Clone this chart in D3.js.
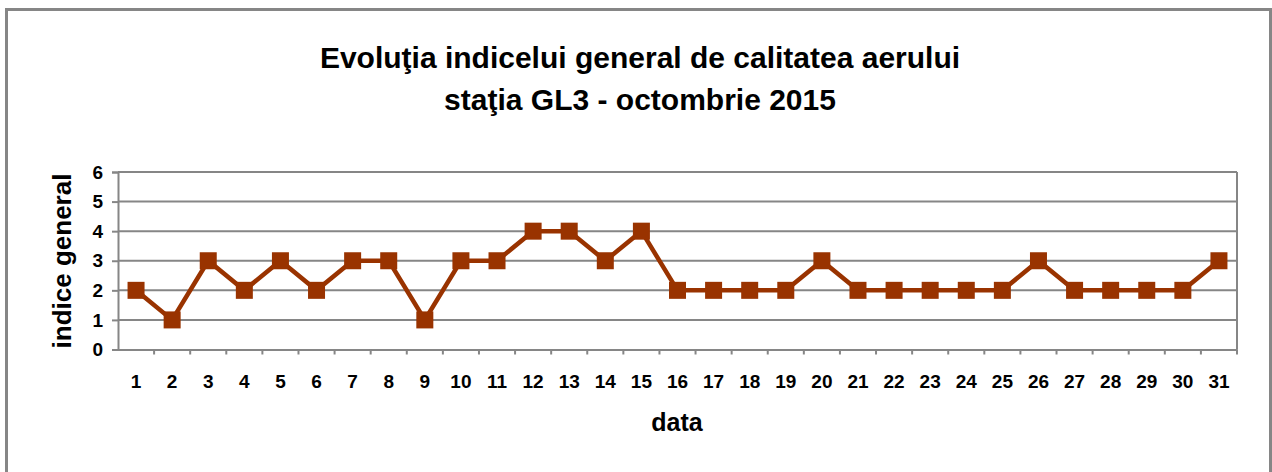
<!DOCTYPE html>
<html>
<head>
<meta charset="utf-8">
<script src="https://cdn.jsdelivr.net/npm/d3@7"></script>
<style>
  body { margin: 0; background: #fff; }
  svg { display: block; font-family: "Liberation Sans", Arial, sans-serif; }
</style>
</head>
<body>
<svg id="chart" width="1272" height="472"></svg>
<script>
// data
const days = d3.range(1, 32).map(String);
const indice = [2, 1, 3, 2, 3, 2, 3, 3, 1, 3, 3, 4, 4, 3, 4, 2, 2, 2, 2, 3, 2, 2, 2, 2, 2, 3, 2, 2, 2, 2, 3];
const yTicks = [0, 1, 2, 3, 4, 5, 6];
const titleLines = ['Evoluţia indicelui general de calitatea aerului', 'staţia GL3 - octombrie 2015'];

const width = 1272;
const height = 472;
const margin = { top: 172, right: 35, bottom: 122.5, left: 118 };

const svg = d3.select('#chart');
const grey = '#868686';
const lineColor = '#993300';
const font = '"Liberation Sans", Arial, sans-serif';

// outer frame
svg.append('rect')
  .attr('x', 6.5)
  .attr('y', 9.5)
  .attr('width', 1264)
  .attr('height', 480)
  .attr('fill', 'none')
  .attr('stroke', grey)
  .attr('stroke-width', 3);

const x = d3.scaleBand()
  .domain(days)
  .range([margin.left, width - margin.right]);

const y = d3.scaleLinear()
  .domain([0, 6])
  .range([height - margin.bottom, margin.top]);

// grid
svg.append('g')
  .selectAll('line')
  .data(yTicks.slice(1))
  .enter()
  .append('line')
  .attr('x1', margin.left)
  .attr('x2', width - margin.right)
  .attr('y1', d => y(d))
  .attr('y2', d => y(d))
  .attr('stroke', grey)
  .attr('stroke-width', 2);

// right border of plot
svg.append('line')
  .attr('x1', width - margin.right)
  .attr('x2', width - margin.right)
  .attr('y1', y(6))
  .attr('y2', y(0))
  .attr('stroke', grey)
  .attr('stroke-width', 2);

// y axis
const yAxis = svg.append('g')
  .attr('transform', `translate(${margin.left},0)`)
  .call(d3.axisLeft(y).tickValues(yTicks).tickFormat(d3.format('d')).tickSize(6).tickPadding(9));
yAxis.select('.domain').attr('stroke', grey).attr('stroke-width', 2);
yAxis.selectAll('.tick line').attr('stroke', grey).attr('stroke-width', 2);
yAxis.selectAll('.tick text')
  .attr('fill', '#000')
  .style('font-size', '19px')
  .style('font-weight', 'bold')
  .style('font-family', font);

// x axis
const xAxis = svg.append('g')
  .attr('transform', `translate(0,${y(0)})`)
  .call(d3.axisBottom(x).tickSize(0).tickPadding(25));
xAxis.select('.domain').attr('stroke', grey).attr('stroke-width', 2);
xAxis.selectAll('.tick text')
  .attr('fill', '#000')
  .style('font-size', '19px')
  .style('font-weight', 'bold')
  .style('font-family', font);

// tick marks between categories
xAxis.append('g')
  .selectAll('line')
  .data(days.slice(1).concat(['end']))
  .enter()
  .append('line')
  .attr('x1', (d, i) => i < days.length - 1 ? x(d) : width - margin.right)
  .attr('x2', (d, i) => i < days.length - 1 ? x(d) : width - margin.right)
  .attr('y1', 0)
  .attr('y2', 5)
  .attr('stroke', grey)
  .attr('stroke-width', 2);

// line
const line = d3.line()
  .x((d, i) => x(days[i]) + x.bandwidth() / 2)
  .y(d => y(d));

svg.append('path')
  .datum(indice)
  .attr('fill', 'none')
  .attr('stroke', lineColor)
  .attr('stroke-width', 4.5)
  .attr('d', line);

const size = 17;
svg.append('g')
  .selectAll('rect')
  .data(indice)
  .enter()
  .append('rect')
  .attr('x', (d, i) => x(days[i]) + x.bandwidth() / 2 - size / 2)
  .attr('y', d => y(d) - size / 2)
  .attr('width', size)
  .attr('height', size)
  .attr('fill', lineColor);

// title
svg.append('text')
  .attr('text-anchor', 'middle')
  .style('font-size', '30px')
  .style('font-weight', 'bold')
  .selectAll('tspan')
  .data(titleLines)
  .enter()
  .append('tspan')
  .attr('x', 640)
  .attr('y', (d, i) => 68 + i * 42)
  .text(d => d);

// axis titles
svg.append('text')
  .attr('x', 677)
  .attr('y', 431)
  .attr('text-anchor', 'middle')
  .style('font-size', '25px')
  .style('font-weight', 'bold')
  .text('data');

svg.append('text')
  .attr('transform', 'translate(71,261) rotate(-90)')
  .attr('text-anchor', 'middle')
  .style('font-size', '26px')
  .style('font-weight', 'bold')
  .text('indice general');
</script>
</body>
</html>
